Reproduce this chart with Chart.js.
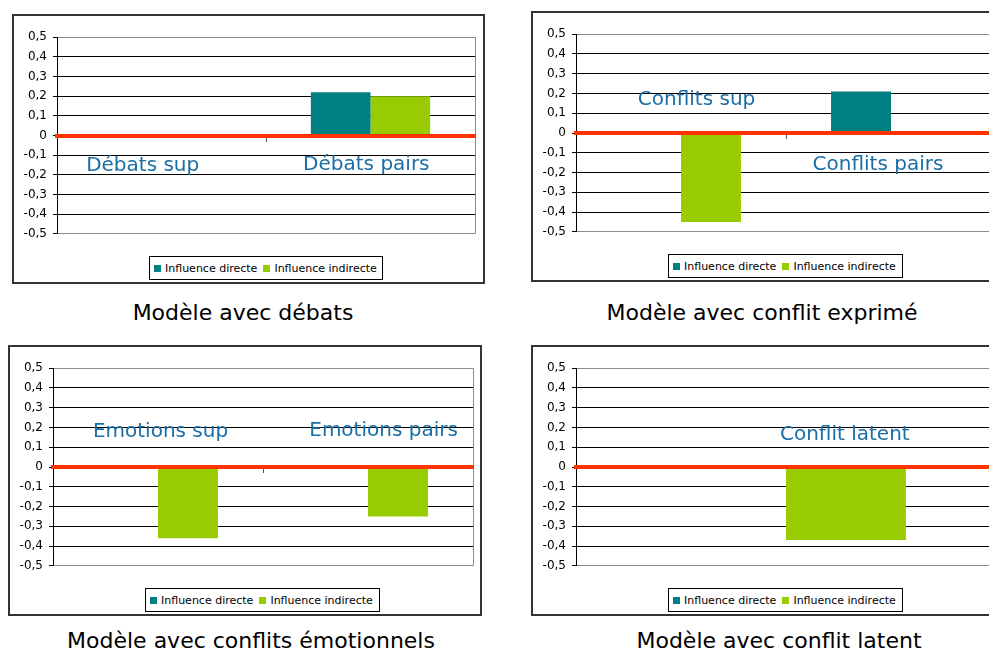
<!DOCTYPE html>
<html lang="fr">
<head>
<meta charset="utf-8">
<title>Modèles d'influence</title>
<script src="https://cdn.jsdelivr.net/npm/chart.js@4.4.1/dist/chart.umd.min.js"></script>
<style>
  html, body { margin: 0; padding: 0; background: #fff; }
  body { width: 989px; height: 655px; position: relative; overflow: hidden; font-family: 'DejaVu Sans', sans-serif; }
  .frame { position: absolute; box-sizing: border-box; border: 2px solid #333; background: #fff; }
  .plot { position: absolute; }
  .legend { position: absolute; box-sizing: border-box; border: 1px solid #000; background: #fff;
            display: flex; align-items: center; padding-left: 4px; font-size: 11px; color: #000; white-space: nowrap; }
  .legend .item { display: flex; align-items: center; margin-right: 6px; }
  .legend .sw { width: 7px; height: 7px; margin-right: 4px; }
  .caption { position: absolute; font-size: 22px; line-height: 26px; color: #000; white-space: nowrap; transform: translateX(-50%); }
</style>
</head>
<body>
<script>
// ---- values -------------------------------------------------------------
const debatsCategories = ['Débats sup', 'Débats pairs'];
const debatsDirecte = [0, 0.22];
const debatsIndirecte = [0, 0.20];

const conflitsCategories = ['Conflits sup', 'Conflits pairs'];
const conflitsDirecte = [0, 0.21];
const conflitsIndirecte = [-0.45, 0];

const emotionsCategories = ['Emotions sup', 'Emotions pairs'];
const emotionsDirecte = [0, 0];
const emotionsIndirecte = [-0.36, -0.25];

const latentCategories = ['Conflit latent'];
const latentDirecte = [0];
const latentIndirecte = [-0.37];

const seriesNames = ['Influence directe', 'Influence indirecte'];
const seriesColors = ['#008080', '#99cc00'];

const yMin = -0.5;
const yMax = 0.5;
const yStep = 0.1;

// ---- panels: where each chart sits on the page ---------------------------
const panels = [
  {
    title: 'Modèle avec débats',
    categories: debatsCategories, directe: debatsDirecte, indirecte: debatsIndirecte,
    frame: [12, 14, 473, 270], plot: [57, 36, 475, 235],
    legend: [149, 256, 234, 24], caption: [243, 300],
    tags: [{ x: -0.09, y: -0.18 }, { x: 0.98, y: -0.173 }]
  },
  {
    title: 'Modèle avec conflit exprimé',
    categories: conflitsCategories, directe: conflitsDirecte, indirecte: conflitsIndirecte,
    frame: [531, 11, 480, 271], plot: [576, 33, 996, 233],
    legend: [668, 254, 235, 24], caption: [762, 300],
    tags: [{ x: 0.074, y: 0.14 }, { x: 0.938, y: -0.187 }]
  },
  {
    title: 'Modèle avec conflits émotionnels',
    categories: emotionsCategories, directe: emotionsDirecte, indirecte: emotionsIndirecte,
    frame: [8, 345, 474, 271], plot: [53, 367, 473, 567],
    legend: [145, 588, 235, 24], caption: [251, 628],
    tags: [{ x: 0.012, y: 0.15 }, { x: 1.074, y: 0.155 }]
  },
  {
    title: 'Modèle avec conflit latent',
    categories: latentCategories, directe: latentDirecte, indirecte: latentIndirecte,
    frame: [531, 345, 480, 271], plot: [576, 367, 996, 567],
    legend: [668, 588, 235, 24], caption: [779, 628],
    tags: [{ x: 0.14, y: 0.139 }]
  }
];

const AXIS_W = 50;   // room left of the plot for the y labels
const PAD_T = 12;
const PAD_B = 12;
const PAD_R = 8;

function formatTick(v) {
  if (Math.abs(v) < 1e-9) return '0';
  return v.toFixed(1).replace('.', ',');
}

function isEdge(v) {
  return Math.abs(Math.abs(v) - 0.5) < 1e-9;
}

// category names written inside the plot, placed in data units
const categoryTags = {
  id: 'categoryTags',
  afterDraw(chart, args, opts) {
    const { ctx, scales: { x, y } } = chart;
    ctx.save();
    ctx.font = '20px "DejaVu Sans"';
    ctx.fillStyle = '#1a6ea6';
    ctx.textAlign = 'center';
    ctx.textBaseline = 'alphabetic';
    (opts.tags || []).forEach((t, i) => {
      ctx.fillText(chart.data.labels[i], x.getPixelForValue(t.x), y.getPixelForValue(t.y));
    });
    ctx.restore();
  }
};

// grey right edge of the plot area
const plotEdge = {
  id: 'plotEdge',
  beforeDatasetsDraw(chart) {
    const { ctx, chartArea: a } = chart;
    const xr = Math.round(a.right) + 0.5;
    ctx.save();
    ctx.strokeStyle = '#8c8c8c';
    ctx.lineWidth = 1;
    ctx.beginPath();
    ctx.moveTo(xr, a.top);
    ctx.lineTo(xr, a.bottom);
    ctx.stroke();
    ctx.restore();
  }
};

function addBox(cls, x, y, w, h) {
  const el = document.createElement('div');
  el.className = cls;
  el.style.left = x + 'px';
  el.style.top = y + 'px';
  if (w != null) el.style.width = w + 'px';
  if (h != null) el.style.height = h + 'px';
  document.body.appendChild(el);
  return el;
}

function buildLegend(p) {
  const [lx, ly, lw, lh] = p.legend;
  const box = addBox('legend', lx, ly, lw, lh);
  box.innerHTML = seriesNames.map((name, i) => `
    <span class="item"><span class="sw" style="background:${seriesColors[i]}"></span>${name}</span>
  `).join('');
}

function buildChart(p) {
  const [fx, fy, fw, fh] = p.frame;
  addBox('frame', fx, fy, fw, fh);

  const [l, t, r, b] = p.plot;
  const w = r - l + AXIS_W + PAD_R;
  const h = b - t + PAD_T + PAD_B;
  const canvas = document.createElement('canvas');
  canvas.className = 'plot';
  canvas.width = w;
  canvas.height = h;
  canvas.style.left = (l - AXIS_W) + 'px';
  canvas.style.top = (t - PAD_T) + 'px';
  canvas.style.width = w + 'px';
  canvas.style.height = h + 'px';
  document.body.appendChild(canvas);

  new Chart(canvas, {
    type: 'bar',
    data: {
      labels: p.categories,
      datasets: [
        { label: seriesNames[0], data: p.directe, backgroundColor: seriesColors[0] },
        { label: seriesNames[1], data: p.indirecte, backgroundColor: seriesColors[1] }
      ]
    },
    options: {
      responsive: false,
      animation: false,
      events: [],
      layout: { padding: { left: 0, top: PAD_T, right: PAD_R, bottom: PAD_B } },
      datasets: {
        bar: { borderWidth: 0, categoryPercentage: 0.571, barPercentage: 1.0 }
      },
      plugins: {
        legend: { display: false },
        tooltip: { enabled: false },
        categoryTags: { tags: p.tags }
      },
      scales: {
        x: {
          type: 'category',
          position: { y: 0 },
          offset: true,
          grid: { offset: true, drawOnChartArea: false, drawTicks: true, tickLength: 4, color: '#555', lineWidth: 1 },
          border: { display: true, color: '#ff3300', width: 4, z: 1 },
          ticks: { display: false },
          afterFit(scale) { scale.height = 0; }
        },
        y: {
          min: yMin,
          max: yMax,
          ticks: {
            stepSize: yStep,
            padding: 6,
            color: '#000',
            font: { family: 'DejaVu Sans', size: 12 },
            callback: v => formatTick(v)
          },
          grid: {
            color: ctx => (ctx.tick && isEdge(ctx.tick.value) ? '#8c8c8c' : '#000'),
            tickColor: '#000',
            tickLength: 4,
            lineWidth: 1
          },
          border: { display: true, color: '#000', width: 1 },
          afterFit(scale) { scale.width = AXIS_W; }
        }
      }
    },
    plugins: [categoryTags, plotEdge]
  });

  buildLegend(p);

  const cap = addBox('caption', p.caption[0], p.caption[1]);
  cap.textContent = p.title;
}

panels.forEach(buildChart);
</script>
</body>
</html>
